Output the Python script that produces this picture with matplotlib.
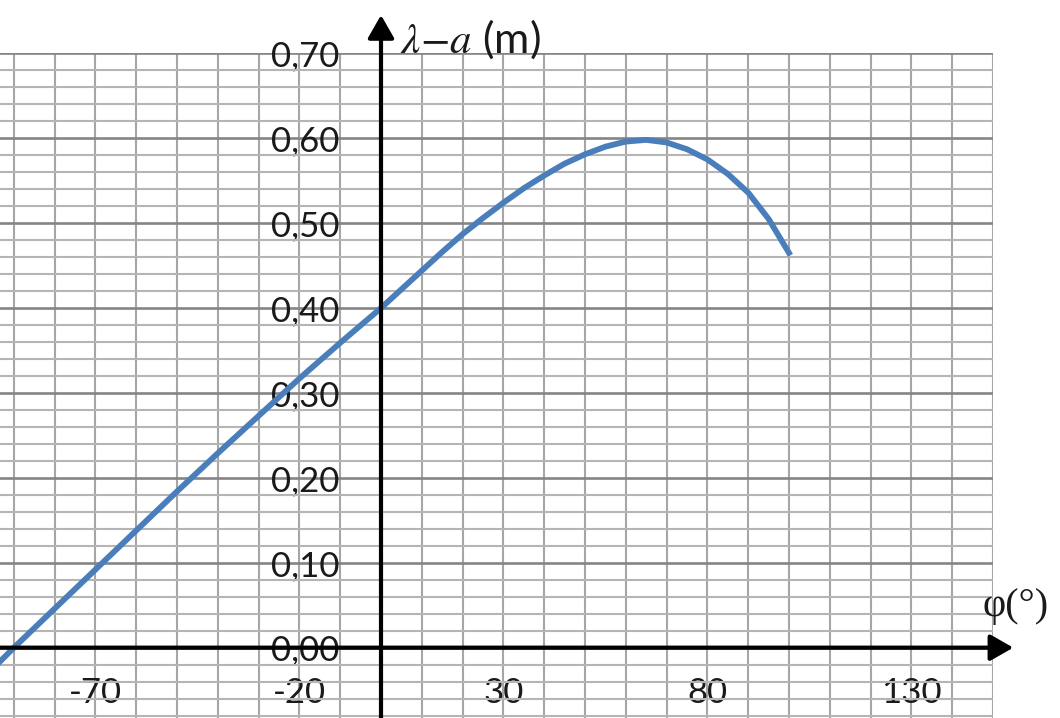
import matplotlib
matplotlib.use("Agg")
import matplotlib.pyplot as plt
from matplotlib.ticker import FixedLocator, FuncFormatter, MultipleLocator

# angle phi (degrees) and lambda - a (m)
phi = [-95, -90, -80, -70, -60, -50, -40, -30, -20, -10, 0, 5, 10, 15, 20, 25,
       30, 35, 40, 45, 50, 55, 60, 65, 70, 75, 80, 85, 90, 95, 100]
lam_a = [-0.024, 0.000, 0.046, 0.092, 0.138, 0.184, 0.229, 0.273, 0.317, 0.359,
         0.400, 0.422, 0.444, 0.466, 0.487, 0.506, 0.524, 0.541, 0.556, 0.570,
         0.581, 0.590, 0.596, 0.598, 0.595, 0.587, 0.575, 0.558, 0.536, 0.505,
         0.465]
x_ticks = [-70, -20, 30, 80, 130]
y_ticks = [0.0, 0.1, 0.2, 0.3, 0.4, 0.5, 0.6, 0.7]

plt.rcParams["font.family"] = ["Lato", "DejaVu Sans"]
plt.rcParams["mathtext.fontset"] = "stix"
plt.rcParams["axes.unicode_minus"] = False

fig = plt.figure(figsize=(10.6, 7.18), dpi=100)
# the chart is cropped on the left and bottom, so the axes run past the figure edge
ax = fig.add_axes([-0.0254, -0.0203, 0.9621, 0.9461])
ax.set_xlim(-100, 150)
ax.set_ylim(-0.1, 0.7)

ax.plot(phi, lam_a, color="#4a7ebb", lw=4.2, zorder=3, solid_joinstyle="round")

ax.xaxis.set_major_locator(FixedLocator(x_ticks))
ax.xaxis.set_minor_locator(MultipleLocator(10))
ax.yaxis.set_major_locator(FixedLocator(y_ticks))
ax.yaxis.set_minor_locator(MultipleLocator(0.02))
ax.yaxis.set_major_formatter(FuncFormatter(lambda v, p: f"{v:.2f}".replace(".", ",")))

ax.grid(which="both", axis="x", color="#a6a6a6", lw=1.5)
ax.grid(which="major", axis="y", color="#858585", lw=1.9)
ax.grid(which="minor", axis="y", color="#b5b5b5", lw=1.5)

for s in ax.spines.values():
    s.set_visible(False)
ax.spines["left"].set_position(("data", 0))
ax.spines["bottom"].set_position(("data", 0))
ax.tick_params(which="both", length=0, labelcolor="#1a1a1a")
ax.tick_params(axis="y", pad=30, labelsize=25)
ax.tick_params(axis="x", pad=21, labelsize=25)

arrow = dict(arrowstyle="-|>,head_length=1.4,head_width=0.8", color="black",
             lw=3, shrinkA=0, shrinkB=0, mutation_scale=10)
ax.annotate("", xy=(0, 0.745), xytext=(0, -0.1), arrowprops=arrow, annotation_clip=False)
ax.annotate("", xy=(155, 0), xytext=(-100, 0), arrowprops=arrow, annotation_clip=False)

ax.text(4.7, 0.716, r"$\lambda{-}a$ (m)", fontsize=31, ha="left", va="center",
        color="#1a1a1a", clip_on=False)
ax.text(147.5, 0.048, "φ(°)", fontsize=29, ha="left", va="center",
        family=["Liberation Serif"], color="#1a1a1a", clip_on=False)

fig.savefig("out.png", dpi=100)
